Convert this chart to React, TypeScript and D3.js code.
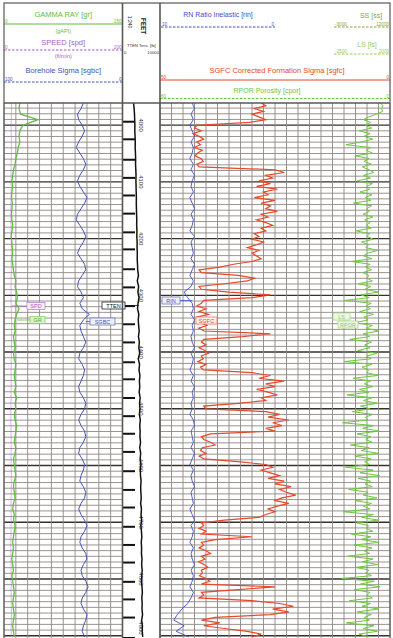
import * as d3 from "d3";

const W = 393;
const H = 638;
const FONT = "'Liberation Sans', Arial, sans-serif";

// logged interval; every curve is sampled evenly over it
const LOG_TOP = 3961;
const LOG_BOTTOM = 4902;

// SGFC corrected formation sigma [c.u.], fine sampling
const sgfc = [
  28, 27, 29.5, 27.5, 30, 28.5, 27, 30.5,
  42,
  42.5, 41, 42.8, 41.5, 40.5, 42, 41.2, 42.6, 40.8, 41.8, 42.4, 41, 40.6, 42, 41.5,
  25,
  23, 27, 25.5, 28.5, 26, 29, 24.5, 27.5, 26.5, 29.5, 25, 28, 26, 27, 24.5, 28, 26.5, 29, 27, 25.5,
  28, 27, 29.5, 28.5, 30, 27.5, 29, 31, 28.5, 30, 29, 28,
  30, 34, 37, 41.5, 41, 33, 29.5, 31, 36, 41.5, 41, 35, 26, 30, 40.5,
  41, 42, 40, 41.5, 39.5, 42, 40.5, 41, 39.8, 41.6, 40.4,
  26, 32, 40.5,
  41, 40, 41.5, 40.2, 39.5, 41, 40.6, 41.8, 40, 41.2, 40.5,
  30,
  26, 28.5, 23, 27, 25, 29, 26.5, 24.5, 28, 27,
  33, 40.5, 40,
  27,
  24, 26.5, 22, 25.5, 23.5, 27, 25,
  39,
  41, 40.5, 39, 38, 40.8, 41.2, 40, 41.5, 40.5,
  33,
  27, 25.5, 28, 26, 24, 26.5, 23, 25, 21.5, 24, 22.5, 20.5, 23.5, 25, 22, 24.5, 26.5, 25, 27, 28.5,
  36,
  41, 40.5, 41.5, 40, 41,
  30, 38, 41,
  40.5, 41.5, 40, 39, 41, 40.2, 41.6, 40.4, 39.6, 41, 40.8, 41.4, 40, 39.2, 41,
  25, 33, 41, 40.5, 41.5,
  30,
  24, 21, 25.5, 22, 26,
  38, 41, 37, 40.5, 36, 31, 28, 30,
];

// RPOR porosity [pu], fine sampling
const rpor = [
  2.5, 1.8, 2.2, 1.9, 3.5, 5.5, 7.0, 5.0,
  6.5, 4.8, 8.0, 5.2, 6.8, 4.5, 7.5, 11.5, 5.0, 6.2, 4.6, 9.0, 5.5, 6.8, 4.9, 7.2,
  5.5, 4.2, 6.9, 5.1, 8.5, 4.6, 6.0, 5.3, 7.8, 4.7, 6.4, 5.0, 9.5, 4.8, 6.1, 5.4, 7.0, 4.5, 6.6, 5.2,
  6.2, 4.9, 8.8, 5.3, 6.0, 4.4, 7.4, 5.6, 6.3, 3.2, 5.8, 6.9, 4.7, 10.0, 5.2, 6.4, 4.8, 7.1, 5.5, 6.0,
  4.6, 8.2, 5.0, 6.5, 3.0, 7.6, 5.4, 11.8, 4.9, 6.3, 5.1, 7.9, 4.3, 6.8, 5.7, 9.1, 4.6, 6.2, 2.9, 7.0,
  5.3, 10.5, 4.8, 6.6, 5.2, 8.4, 3.4, 6.1, 5.0, 12.0, 4.7, 7.3, 5.6, 6.0, 3.1, 9.6, 5.1, 6.7, 4.4, 8.0,
  5.5, 11.2, 4.6, 6.9, 3.3, 7.7, 5.2, 9.8, 4.5, 6.4, 5.8, 12.4, 4.2, 7.1, 2.8, 8.6, 5.0, 6.3, 4.7, 10.3,
  5.4, 7.5, 3.0, 9.2, 4.9, 6.6, 5.3, 11.6, 4.4, 7.8, 2.7, 8.3, 5.1, 6.5, 4.6, 10.8, 5.7, 7.0, 3.4, 9.0,
  4.8, 6.9, 5.2, 12.2, 4.3, 7.4, 3.1, 8.7, 5.6, 6.1, 4.5, 10.1, 5.0, 7.6, 2.9, 9.4, 4.7, 6.8, 5.3, 11.0,
  4.4, 7.2, 3.2, 8.9, 5.5, 6.4, 4.8, 12.6, 4.1, 7.7, 2.6, 9.3, 5.2, 6.0, 4.6, 10.6, 5.1, 7.3, 3.0, 8.5,
  4.9, 6.7, 5.4, 11.4, 4.2, 7.0, 3.3, 8.1, 5.6,
];

// gamma ray [gAPI], coarse sampling
const gammaRay = [
  20, 19, 21, 43, 24, 20, 19, 20, 18, 17,
  15, 14, 12, 11, 10, 11, 10, 9.5, 10.5, 10,
  9.5, 10, 11, 10, 9, 10, 10.5, 11, 10, 11,
  12, 13, 15, 14, 16, 17, 15, 19, 16, 14,
  13, 14, 12, 13, 14, 12, 13, 15, 14, 13,
  14, 15, 13, 16, 14, 15, 13, 14, 16, 15,
  14, 13, 15, 14, 12, 13, 14, 15, 13, 12,
  13, 14, 12, 11, 13, 12, 14, 13, 12, 11,
  12, 11, 10, 11, 12, 10, 11, 12, 13, 12,
  11, 12, 13, 12, 11, 12, 13,
];

// borehole sigma [c.u.]
const boreholeSigma = [
  33, 35, 38, 37, 34, 32, 34, 37, 39, 36,
  33, 31, 33, 36, 38, 36, 33, 30, 32, 35,
  38, 39, 36, 33, 31, 33, 36, 38, 35, 32,
  31, 34, 37, 38, 35, 33, 36, 34, 28, 33,
  36, 35, 33, 31, 33, 36, 37, 34, 32, 33,
  35, 37, 36, 33, 31, 32, 35, 37, 35, 32,
  31, 33, 36, 37, 34, 32, 33, 35, 36, 33,
  31, 32, 35, 37, 35, 32, 30, 32, 35, 36,
  34, 31, 30, 33, 35, 34, 31, 29, 31, 34,
  35, 33, 30, 31, 33, 34, 32,
];

// RN ratio inelastic
const rinRatio = [
  7.2, 7.0, 7.3, 7.1, 7.4, 7.2, 7.0, 7.3, 7.1, 7.2,
  7.4, 7.1, 7.3, 7.0, 7.2, 7.3, 7.1, 7.4, 7.2, 7.0,
  7.3, 7.1, 7.2, 7.4, 7.0, 7.3, 7.2, 7.1, 7.3, 7.0,
  7.2, 7.4, 7.1, 7.3, 7.9, 7.6, 7.2, 7.1, 7.3, 7.0,
  7.2, 7.1, 7.3, 7.2, 7.0, 7.3, 7.1, 7.2, 7.4, 7.1,
  7.3, 7.0, 7.2, 7.1, 7.3, 7.2, 7.4, 7.1, 7.0, 7.3,
  7.2, 7.1, 7.3, 7.0, 7.2, 7.4, 7.1, 7.3, 7.2, 7.0,
  7.3, 7.2, 7.1, 7.4, 7.2, 7.0, 7.3, 7.1, 7.2, 7.4,
  7.1, 7.3, 7.2, 7.0, 7.3, 7.1, 7.2, 7.4, 7.1, 7.3,
  7.6, 8.1, 8.5, 8.8, 7.9, 8.6, 7.5,
];

// cable tension [lb]
const tension = [
  2950, 3100, 3200, 3250, 3300, 3280, 3350, 3400, 3380, 3450,
  3500, 3480, 3550, 3600, 3580, 3620, 3650, 3700, 3680, 3720,
  3750, 3800, 3780, 3850, 3820, 3900, 3880, 3950, 3920, 4000,
  4050, 4250, 3950, 4300, 4100, 4400, 4150, 4000, 4350, 4200,
  4300, 4450, 4250, 4500, 4350, 4600, 4200, 4550, 4400, 4650,
  4500, 4600, 4450, 4700, 4550, 4650, 4500, 4750, 4600, 4700,
  4650, 4800, 4600, 4850, 4700, 4900, 4750, 4800, 4950, 4850,
  4900, 5000, 4850, 5050, 4950, 5100, 4900, 5050, 5150, 5000,
  5100, 5050, 5200, 5100, 5250, 5150, 5050, 5200, 5300, 5150,
  5250, 5200, 5350, 5100, 5300, 5250, 5400,
];

// logging speed [ft/min]
const speed = [
  13, 12, 12.5, 12, 12, 11.5, 12, 12.5, 12, 12, 13, 12.5, 12,
  12, 11.5, 12, 12, 12.5, 12, 12, 11.5, 12, 12, 12.5, 12,
];

// time marks on the depth track [ft]
const timeMarks = [
  3994, 4025, 4061, 4093, 4124, 4156, 4189, 4219, 4254, 4286, 4319, 4351, 4383, 4418, 4448,
  4481, 4513, 4544, 4576, 4610, 4643, 4674, 4708, 4740, 4771, 4805, 4836, 4868, 4904,
];

const depthLabels = [4000, 4100, 4200, 4300, 4400, 4500, 4600, 4700, 4800, 4900];

const T1: [number, number] = [4, 122.5];
const TD: [number, number] = [122.5, 160];
const T23: [number, number] = [160, 390];
const GRID_TOP = 103;

const C = {
  gr: "#62bb45",
  spd: "#a45fc4",
  sgbc: "#4453b8",
  rin: "#3f4fc4",
  sgfc: "#e8482a",
  rpor: "#6cc83e",
  ss: "#8fa52c",
  ls: "#95cc55",
  grid: "#8f8782",
  heavy: "#35312f",
  frame: "#5a5654",
};

const y = d3.scaleLinear().domain([3961, 4904]).range([GRID_TOP, H]);
const xGr = d3.scaleLinear().domain([0, 150]).range(T1);
const xSpd = d3.scaleLinear().domain([0, 200]).range(T1);
const xSgbc = d3.scaleLinear().domain([100, 0]).range(T1);
const xTen = d3.scaleLinear().domain([0, 10000]).range(TD);
const xSgfc = d3.scaleLinear().domain([50, 0]).range(T23);
const xRin = d3.scaleLinear().domain([10, 0]).range([T23[0], 275]);
const xRpor = d3.scaleLinear().domain([60, 0]).range(T23);

function curvePath(values: number[], x: d3.ScaleLinear<number, number>) {
  const n = values.length;
  const depths = values.map((_, i) => LOG_TOP + (i * (LOG_BOTTOM - LOG_TOP)) / (n - 1));
  return (
    d3
      .line<number>()
      .x((v) => x(v))
      .y((_, i) => y(depths[i]))(values) || ""
  );
}

function Flag({ x, yy, w, label, stroke, fill, color }: any) {
  return (
    <g>
      <rect x={x} y={yy} width={w} height={7} fill={fill} stroke={stroke} strokeWidth={0.8} />
      <text x={x + w / 2} y={yy + 5.6} fontSize={5.5} textAnchor="middle" fill={color}>
        {label}
      </text>
    </g>
  );
}

function ScaleLine({ x0, x1, yy, color, left, right, dashed }: any) {
  return (
    <g fill={color} fontSize={4.6}>
      <line x1={x0} x2={x1} y1={yy} y2={yy} stroke={color} strokeWidth={1}
        strokeDasharray={dashed ? "2.5,1.5" : undefined} />
      <text x={x0 + 1} y={yy - 1}>{left}</text>
      <text x={x1 - 1} y={yy - 1} textAnchor="end">{right}</text>
    </g>
  );
}

export default function App() {
  const minor = d3.range(3970, 4905, 10);
  const t1Cols = d3.range(0, 11).map((i) => T1[0] + (i * (T1[1] - T1[0])) / 10);
  const t23Cols = d3.range(0, 21).map((i) => T23[0] + (i * (T23[1] - T23[0])) / 20);
  const c1 = (T1[0] + T1[1]) / 2;

  return (
    <div>
      <style>{"body{margin:0}"}</style>
      <svg width={W} height={H} style={{ display: "block", background: "#fff" }} fontFamily={FONT}>
        <defs>
          <clipPath id="clip1"><rect x={T1[0]} y={GRID_TOP} width={T1[1] - T1[0]} height={H - GRID_TOP} /></clipPath>
          <clipPath id="clipD"><rect x={TD[0]} y={GRID_TOP} width={TD[1] - TD[0]} height={H - GRID_TOP} /></clipPath>
          <clipPath id="clip23"><rect x={T23[0]} y={GRID_TOP} width={T23[1] - T23[0]} height={H - GRID_TOP} /></clipPath>
        </defs>

        {/* grid */}
        {minor.map((d) => {
          const heavy = d % 100 === 0;
          return (
            <g key={d}>
              {[T1, T23].map((t, k) => (
                <line key={k} x1={t[0]} x2={t[1]} y1={y(d)} y2={y(d)}
                  stroke={heavy ? C.heavy : C.grid} strokeWidth={heavy ? 1.4 : 0.9} />
              ))}
            </g>
          );
        })}
        {t1Cols.map((x, i) => (
          <line key={"a" + i} x1={x} x2={x} y1={GRID_TOP} y2={H} stroke={C.grid} strokeWidth={0.9} />
        ))}
        {t23Cols.map((x, i) => (
          <line key={"b" + i} x1={x} x2={x} y1={GRID_TOP} y2={H} stroke={C.grid} strokeWidth={0.9} />
        ))}

        {/* depth track */}
        {timeMarks.map((d) => (
          <line key={d} x1={TD[0]} x2={TD[0] + 12.5} y1={y(d)} y2={y(d)} stroke="#111" strokeWidth={2} />
        ))}
        {depthLabels.map((d) => (
          <text key={d} transform={`translate(${141.5},${Math.min(y(d), H - 10)}) rotate(90)`} fontSize={6}
            textAnchor="middle" dy="0.35em" fill="#333">
            {d}
          </text>
        ))}

        {/* curves */}
        <g clipPath="url(#clip1)" fill="none">
          <path d={curvePath(speed, xSpd)} stroke={C.spd} strokeOpacity={0.45} strokeWidth={1} />
          <path d={curvePath(gammaRay, xGr)} stroke={C.gr} strokeWidth={1.3} />
          <path d={curvePath(boreholeSigma, xSgbc)} stroke={C.sgbc} strokeWidth={1} />
        </g>
        <g clipPath="url(#clipD)" fill="none">
          <path d={curvePath(tension, xTen)} stroke="#111" strokeWidth={1.5} />
        </g>
        <g clipPath="url(#clip23)" fill="none">
          <path d={curvePath(rpor, xRpor)} stroke={C.rpor} strokeWidth={1} />
          <path d={curvePath(rinRatio, xRin)} stroke={C.rin} strokeWidth={0.9} />
          <path d={curvePath(sgfc, xSgfc)} stroke={C.sgfc} strokeWidth={1.2} />
        </g>

        {/* curve flags */}
        <line x1={12} x2={27} y1={306} y2={306} stroke={C.spd} strokeWidth={0.8} />
        <Flag x={27} yy={302.5} w={18} label="SPD" stroke="#b78ad0" fill="#f6eefa" color={C.spd} />
        <line x1={17} x2={30} y1={320} y2={320} stroke={C.gr} strokeWidth={0.8} />
        <Flag x={30} yy={316.5} w={15} label="GR" stroke="#8fd070" fill="#d9f2cc" color="#5aa83c" />
        <line x1={xTen(4300)} x2={125} y1={305.5} y2={305.5} stroke="#111" strokeWidth={0.8} />
        <Flag x={102} yy={302} w={23} label="TTEN" stroke="#222" fill="#fff" color="#111" />
        <line x1={xSgbc(31)} x2={90} y1={321.5} y2={321.5} stroke={C.sgbc} strokeWidth={0.8} />
        <Flag x={90} yy={318} w={25} label="SGBC" stroke="#6b78c8" fill="#eef0fa" color={C.sgbc} />
        <line x1={180} x2={xRin(7.2)} y1={300.5} y2={300.5} stroke={C.rin} strokeWidth={0.8} />
        <Flag x={162} yy={297} w={18} label="RIN" stroke="#6b78c8" fill="#eef0fa" color={C.rin} />
        <Flag x={196} yy={317} w={21} label="SGFC" stroke="#ee7a60" fill="#fdf0ec" color={C.sgfc} />
        <Flag x={333} yy={313} w={17} label="LS" stroke="#a8d88a" fill="#eef8e6" color="#88c060" />
        <Flag x={338} yy={321} w={20} label="RPOR" stroke="#a8d88a" fill="#eef8e6" color="#88c060" />

        {/* header: track 1 */}
        <text x={c1} y={17} fontSize={7.5} textAnchor="middle" fill={C.gr}>GAMMA RAY  [gr]</text>
        <ScaleLine x0={T1[0]} x1={T1[1]} yy={24} color={C.gr} left="0" right="150" />
        <text x={c1} y={33} fontSize={5.5} textAnchor="middle" fill={C.gr}>(gAPI)</text>
        <text x={c1} y={45} fontSize={7.5} textAnchor="middle" fill={C.spd}>SPEED  [spd]</text>
        <ScaleLine x0={T1[0]} x1={T1[1]} yy={50} color={C.spd} left="0" right="200" dashed />
        <text x={c1} y={58} fontSize={5.5} textAnchor="middle" fill={C.spd}>(ft/min)</text>
        <text x={c1} y={73} fontSize={7.5} textAnchor="middle" fill={C.sgbc}>Borehole Sigma  [sgbc]</text>
        <ScaleLine x0={T1[0]} x1={T1[1]} yy={82} color={C.sgbc} left="100" right="0" dashed />

        {/* header: depth track */}
        <text transform="translate(143,26) rotate(90)" fontSize={6.5} textAnchor="middle" dy="0.35em" fontWeight="bold" fill="#222">FEET</text>
        <text transform="translate(129.5,22) rotate(90)" fontSize={5} textAnchor="middle" dy="0.35em" fill="#222">1:240</text>
        <text x={141.3} y={47} fontSize={4.2} textAnchor="middle" fill="#333">TTEN Tens. [lb]</text>
        <text x={124} y={54} fontSize={4.2} fill="#333">0</text>
        <text x={159} y={54} fontSize={4.2} textAnchor="end" fill="#333">10000</text>

        {/* header: tracks 2-3 */}
        <text x={218} y={17} fontSize={7} textAnchor="middle" fill={C.rin}>RN Ratio Inelastic  [rin]</text>
        <ScaleLine x0={T23[0] + 1} x1={275} yy={27} color={C.rin} left="10" right="0" dashed />
        <text x={371} y={18} fontSize={7} textAnchor="middle" fill={C.ss}>SS  [ss]</text>
        <ScaleLine x0={334} x1={T23[1]} yy={27} color={C.ss} left="-3000" right="12000" dashed />
        <text x={367} y={47} fontSize={7} textAnchor="middle" fill={C.ls}>LS  [ls]</text>
        <ScaleLine x0={334} x1={T23[1]} yy={54} color={C.ls} left="-2500" right="2000" dashed />
        <text x={277} y={73} fontSize={7.5} textAnchor="middle" fill={C.sgfc}>SGFC Corrected Formation Sigma  [sgfc]</text>
        <ScaleLine x0={T23[0]} x1={T23[1]} yy={80} color={C.sgfc} left="50" right="0" />
        <text x={267} y={93} fontSize={7} textAnchor="middle" fill={C.rpor}>RPOR Porosity  [cpor]</text>
        <ScaleLine x0={T23[0]} x1={T23[1]} yy={98.5} color={C.rpor} left="60" right="0" dashed />

        {/* frame */}
        <rect x={T1[0]} y={3} width={T23[1] - T1[0]} height={H + 10} fill="none" stroke={C.frame} strokeWidth={1.2} />
        <line x1={T1[0]} x2={T23[1]} y1={GRID_TOP} y2={GRID_TOP} stroke={C.frame} strokeWidth={1.4} />
        <line x1={TD[0]} x2={TD[0]} y1={3} y2={H} stroke={C.frame} strokeWidth={1.6} />
        <line x1={TD[1]} x2={TD[1]} y1={3} y2={H} stroke={C.frame} strokeWidth={1.6} />
      </svg>
    </div>
  );
}
